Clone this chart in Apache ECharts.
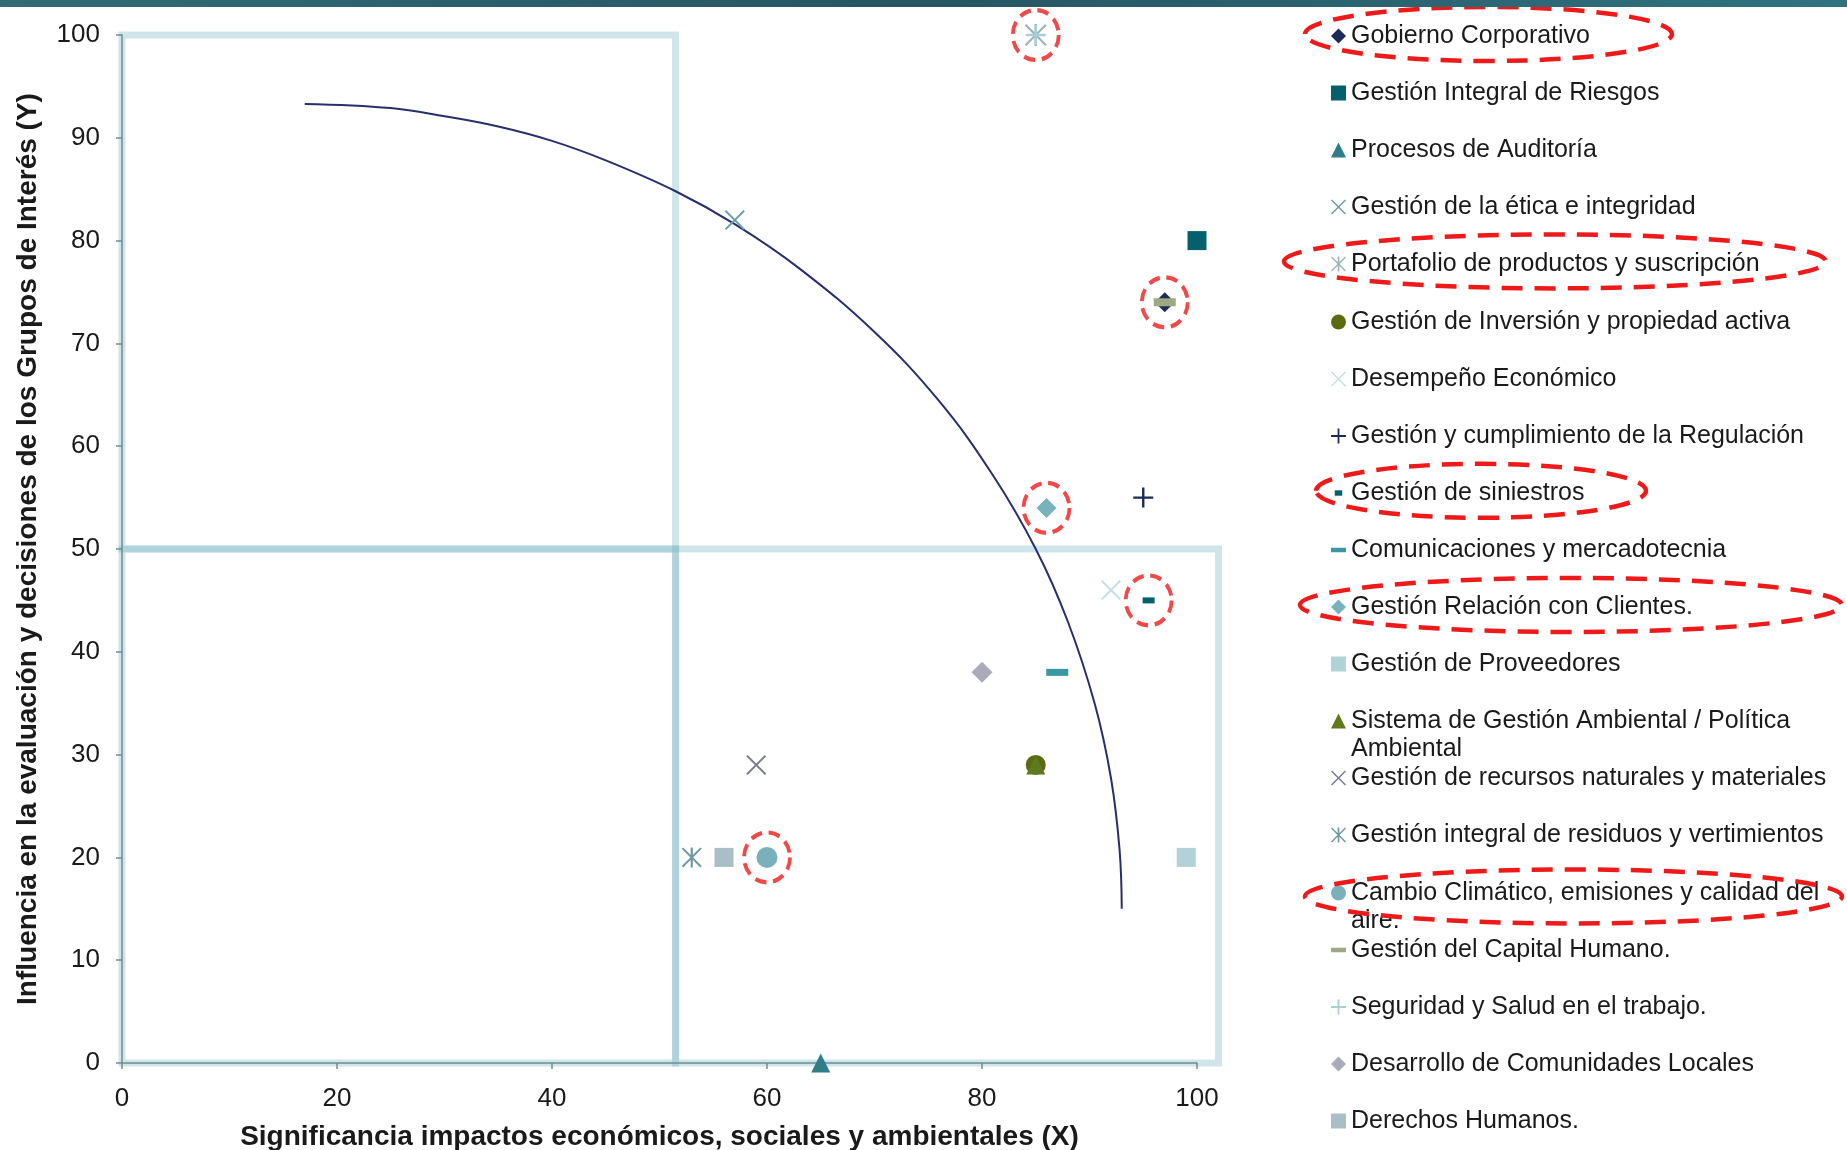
<!DOCTYPE html>
<html><head><meta charset="utf-8">
<script src="https://cdn.jsdelivr.net/npm/echarts@6/dist/echarts.min.js"></script>
<style>html,body{margin:0;padding:0;background:#fff}#c{width:1847px;height:1150px}</style>
</head><body><div id="c"></div>
<script>
// ---------- data ----------
const categories = [
  'Gobierno Corporativo',
  'Gestión Integral de Riesgos',
  'Procesos de Auditoría',
  'Gestión de la ética e integridad',
  'Portafolio de productos y suscripción',
  'Gestión de Inversión y propiedad activa',
  'Desempeño Económico',
  'Gestión y cumplimiento de la Regulación',
  'Gestión de siniestros',
  'Comunicaciones y mercadotecnia',
  'Gestión Relación con Clientes.',
  'Gestión de Proveedores',
  'Sistema de Gestión Ambiental / Política Ambiental',
  'Gestión de recursos naturales y materiales',
  'Gestión integral de residuos y vertimientos',
  'Cambio Climático, emisiones y calidad del aire.',
  'Gestión del Capital Humano.',
  'Seguridad y Salud en el trabajo.',
  'Desarrollo de Comunidades Locales',
  'Derechos Humanos.'
];
const legendText = [
  'Gobierno Corporativo',
  'Gestión Integral de Riesgos',
  'Procesos de Auditoría',
  'Gestión de la ética e integridad',
  'Portafolio de productos y suscripción',
  'Gestión de Inversión y propiedad activa',
  'Desempeño Económico',
  'Gestión y cumplimiento de la Regulación',
  'Gestión de siniestros',
  'Comunicaciones y mercadotecnia',
  'Gestión Relación con Clientes.',
  'Gestión de Proveedores',
  'Sistema de Gestión Ambiental / Política\nAmbiental',
  'Gestión de recursos naturales y materiales',
  'Gestión integral de residuos y vertimientos',
  'Cambio Climático, emisiones y calidad del\naire.',
  'Gestión del Capital Humano.',
  'Seguridad y Salud en el trabajo.',
  'Desarrollo de Comunidades Locales',
  'Derechos Humanos.'
];
const xValues = [97, 100, 65, 57, 85, 85, 92, 95, 95.5, 87, 86, 99, 85, 59, 53, 60, 97, 85, 80, 56];
const yValues = [74, 80, 0, 82, 100, 29, 46, 55, 45, 38, 54, 20, 29, 29, 20, 20, 74, 100, 38, 20];

// topics highlighted with red dashed rings (indices into categories)
const highlighted = [0, 4, 8, 10, 15];

// frontier curve
const curveX = [17, 25, 30, 35, 40, 45, 51.5, 57, 63, 70, 76, 81, 85, 88, 90.5, 92, 92.8, 93];
const curveY = [93.3, 92.9, 92.1, 91.1, 89.7, 87.8, 84.8, 81.6, 77.3, 71.1, 64.4, 57.2, 50.0, 42.9, 34.9, 27.7, 20.7, 15.0];

// quadrant frame boundaries
const quadX = [0, 51.5, 102];
const quadY = [0, 50, 100];

const xAxisTicks = { min: 0, max: 100, interval: 20 };
const yAxisTicks = { min: 0, max: 100, interval: 10 };

// ---------- styles ----------
const P_X = 'path://M0.7,0L5,4.3L9.3,0L10,0.7L5.7,5L10,9.3L9.3,10L5,5.7L0.7,10L0,9.3L4.3,5L0,0.7Z';
const P_AST = 'path://M0.7,0L5,4.3L9.3,0L10,0.7L5.7,5L10,9.3L9.3,10L5,5.7L0.7,10L0,9.3L4.3,5L0,0.7ZM4.45,0H5.55V10H4.45Z';
const P_PLUS = 'path://M4.4,0H5.6V4.4H10V5.6H5.6V10H4.4V5.6H0V4.4H4.4Z';
const colors = ['#1c2a58','#05606e','#2e7d87','#6d9ea3','#9cb5bb','#5b6b12','#c5dfe3','#1c2a58','#05606e','#3a98a3',
                '#78b2ba','#b2d2d7','#5e7a1f','#787c94','#6f9aa3','#79b0bc','#9da981','#a6cfd6','#a9abb8','#a9bec6'];
const symbols = ['diamond','rect','triangle',P_X,P_AST,'circle',P_X,P_PLUS,'rect','rect',
                 'diamond','rect','triangle',P_X,P_AST,'circle','rect',P_PLUS,'diamond','rect'];
const sizes = [20,19,19,20,22,20,20,20,[12,6],[22,7],20,19,19,20,20,21,[22,8],20,21,19];
const legendIcons = {
  8: 'path://M0,0M10,10M2.5,3.2H7.5V6.8H2.5Z',
  9: 'path://M0,0M10,10M0,3.5H10V6.5H0Z',
  16: 'path://M0,0M10,10M0,3.5H10V6.5H0Z'
};
// legend highlight ellipses: [category index, left offset from text start, width, vertical offset]
const legendRings = [[0, -46, 367, -2], [4, -67, 542, -3], [8, -35, 330, -2], [10, -51, 542, -2], [15, -46, 537, 4]];

const FONT = "'Liberation Sans', Arial, sans-serif";
const axisColor = '#6f8c92';
const bandColor = 'rgba(110,175,192,0.33)';
const RED = '#ee1a1a';
const LEG_TOP = 36, LEG_STEP = 57.1, LEG_LH = 28, LEG_LEFT = 1331, LEG_TEXT_X = 1351;

const series = [];
// quadrant frames (custom series, unclipped, through the axes' scales)
series.push({
  name: '_bands', type: 'custom', silent: true, clip: false, z: -1,
  encode: { x: [0, 2], y: [1, 3] },
  data: [
    [quadX[0], quadY[1], quadX[1], quadY[2]],
    [quadX[0], quadY[0], quadX[1], quadY[1]],
    [quadX[1], quadY[0], quadX[2], quadY[1]]
  ],
  renderItem: function (params, api) {
    const p0 = api.coord([api.value(0), api.value(1)]);
    const p1 = api.coord([api.value(2), api.value(3)]);
    return {
      type: 'rect',
      shape: { x: Math.min(p0[0], p1[0]), y: Math.min(p0[1], p1[1]),
               width: Math.abs(p1[0] - p0[0]), height: Math.abs(p1[1] - p0[1]) },
      style: { fill: 'none', stroke: bandColor, lineWidth: 7 }
    };
  }
});
// frontier
series.push({
  name: '_curve', type: 'line', silent: true, symbol: 'none', smooth: 0.4, z: 1,
  lineStyle: { color: '#27306a', width: 2 },
  data: curveX.map((x, i) => [x, curveY[i]])
});
// points
categories.forEach((name, i) => {
  series.push({
    name: name, type: 'scatter', symbol: symbols[i], symbolSize: sizes[i], z: 3,
    itemStyle: { color: colors[i], opacity: 1 },
    data: [[xValues[i], yValues[i]]]
  });
});
// red dashed rings around highlighted points
series.push({
  name: '_rings', type: 'scatter', silent: true, clip: false, z: 4,
  symbol: 'circle', symbolSize: [46, 50],
  itemStyle: { color: 'rgba(0,0,0,0)', borderColor: RED, borderWidth: 4, borderType: [12, 7] },
  data: highlighted.map(i => [xValues[i], yValues[i]])
});

// one legend block per entry; wrapped labels continue on a second text line below
const legends = [];
const extraGraphics = [];
categories.forEach((name, i) => {
  const lines = legendText[i].split('\n');
  const cy = LEG_TOP + i * LEG_STEP;
  legends.push({
    orient: 'vertical', left: LEG_LEFT, top: Math.round(cy - LEG_LH / 2),
    padding: 0, itemWidth: 15, itemHeight: 15, selectedMode: false,
    data: [legendIcons[i] ? { name: name, icon: legendIcons[i] } : name],
    formatter: () => lines[0],
    textStyle: { fontFamily: FONT, fontSize: 25, color: '#1a1a1a', lineHeight: LEG_LH }
  });
  lines.slice(1).forEach((t, k) => {
    extraGraphics.push({
      type: 'text', x: LEG_TEXT_X, y: Math.round(cy + (k + 1) * LEG_LH), silent: true,
      style: { text: t, font: "25px 'Liberation Sans', Arial, sans-serif", fill: '#1a1a1a',
               verticalAlign: 'middle', align: 'left' }
    });
  });
});
legendRings.forEach(([i, dx, w, dy]) => {
  const cy = LEG_TOP + i * LEG_STEP + dy;
  extraGraphics.push({
    type: 'ellipse', silent: true, z: 50,
    shape: { cx: LEG_TEXT_X + dx + w / 2, cy: cy, rx: w / 2, ry: 27 },
    style: { fill: 'none', stroke: RED, lineWidth: 4.5, lineDash: [21, 12] }
  });
});

const chart = echarts.init(document.getElementById('c'), null, { renderer: 'canvas' });
chart.setOption({
  animation: false,
  backgroundColor: '#ffffff',
  graphic: [{
    type: 'rect', left: 0, top: 0, z: 100,
    shape: { width: 1847, height: 7 },
    style: { fill: new echarts.graphic.LinearGradient(0, 0, 1, 0, [
      { offset: 0, color: '#2f6c76' }, { offset: 0.5, color: '#275562' }, { offset: 1, color: '#2f7280' }]) }
  }].concat(extraGraphics),
  grid: { left: 122, right: 650, top: 35, bottom: 87, containLabel: false, outerBoundsMode: 'none' },
  xAxis: {
    type: 'value', min: xAxisTicks.min, max: xAxisTicks.max, interval: xAxisTicks.interval,
    name: 'Significancia impactos económicos, sociales y ambientales (X)',
    nameLocation: 'middle', nameGap: 60,
    nameTextStyle: { fontFamily: FONT, fontSize: 28, fontWeight: 'bold', color: '#1a1a1a' },
    axisLine: { show: true, lineStyle: { color: axisColor, width: 1.5 } },
    axisTick: { show: true, length: 6, lineStyle: { color: axisColor, width: 1.5 } },
    axisLabel: { fontFamily: FONT, fontSize: 26, color: '#1a1a1a', margin: 23 },
    splitLine: { show: false }
  },
  yAxis: {
    type: 'value', min: yAxisTicks.min, max: yAxisTicks.max, interval: yAxisTicks.interval,
    name: 'Influencia en la evaluación y decisiones de los Grupos de Interés (Y)',
    nameLocation: 'middle', nameGap: 80,
    nameTextStyle: { fontFamily: FONT, fontSize: 28, fontWeight: 'bold', color: '#1a1a1a' },
    axisLine: { show: true, lineStyle: { color: axisColor, width: 1.5 } },
    axisTick: { show: true, length: 6, lineStyle: { color: axisColor, width: 1.5 } },
    axisLabel: { fontFamily: FONT, fontSize: 26, color: '#1a1a1a', margin: 22 },
    splitLine: { show: false }
  },
  legend: legends,
  series: series
});
</script>
</body></html>
